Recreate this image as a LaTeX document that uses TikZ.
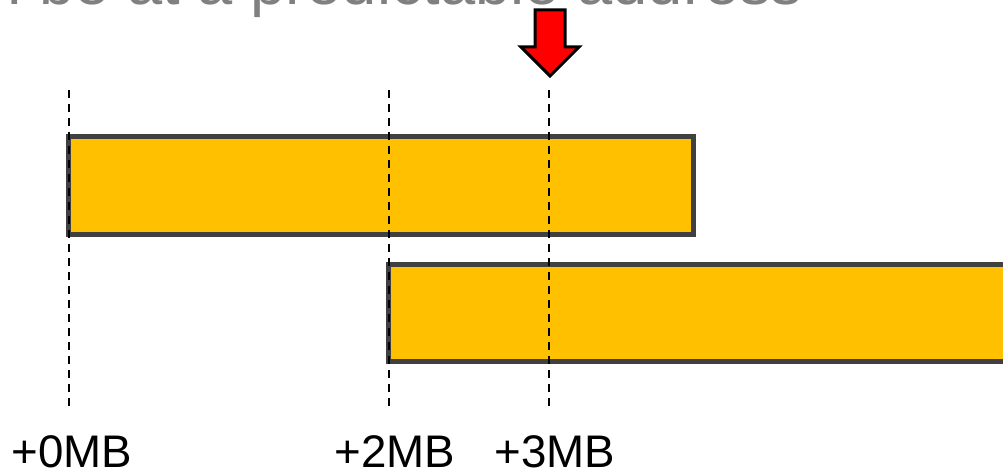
\documentclass[tikz,border=0pt]{standalone}
\usepackage{fontspec}
\setmainfont{Liberation Sans}
\usetikzlibrary{positioning}

\definecolor{blockfill}{HTML}{FFC000}
\definecolor{blockedge}{HTML}{404040}
\definecolor{titlegray}{HTML}{808080}

\tikzset{
  block/.style={draw=blockedge, fill=blockfill, line width=0.1cm},
  marker/.style={draw=black, dashed, line width=0.05cm, dash pattern=on 0.16cm off 0.12cm},
  offset/.style={anchor=base, inner sep=0pt, font=\fontsize{26}{30}\selectfont},
}

\begin{document}
\begin{tikzpicture}[x=0.02cm, y=-0.02cm]
  \useasboundingbox (0,0) rectangle (1003,469);

  % heading, mostly above the page
  \node[anchor=base east, inner sep=0pt, text=titlegray,
        font=\fontsize{36}{40}\selectfont] (title) at (803,5) {n be at a predictable address};

  % the two mappings
  \draw[block] (68,137) rectangle (693,235);
  \draw[block] (388,265) rectangle (1012,361);

  % offset markers
  \foreach \name/\x in {zero/69, two/389, three/549} {
    \coordinate (\name top) at (\x,90);
    \coordinate (\name bot) at (\x,410);
    \draw[marker] (\name top) -- (\name bot);
  }

  \node[offset] (zerolbl) at (72,467) {+0MB};
  \node[offset] (twolbl) at (395,467) {+2MB};
  \node[offset] (threelbl) at (555,467) {+3MB};

  % pointer
  \draw[fill=red, draw=black, line width=0.06cm, line join=miter]
    (535,10) -- (565,10) -- (565,47) -- (579,47) -- (550,76)
    -- (521,47) -- (535,47) -- cycle;

\end{tikzpicture}
\end{document}
